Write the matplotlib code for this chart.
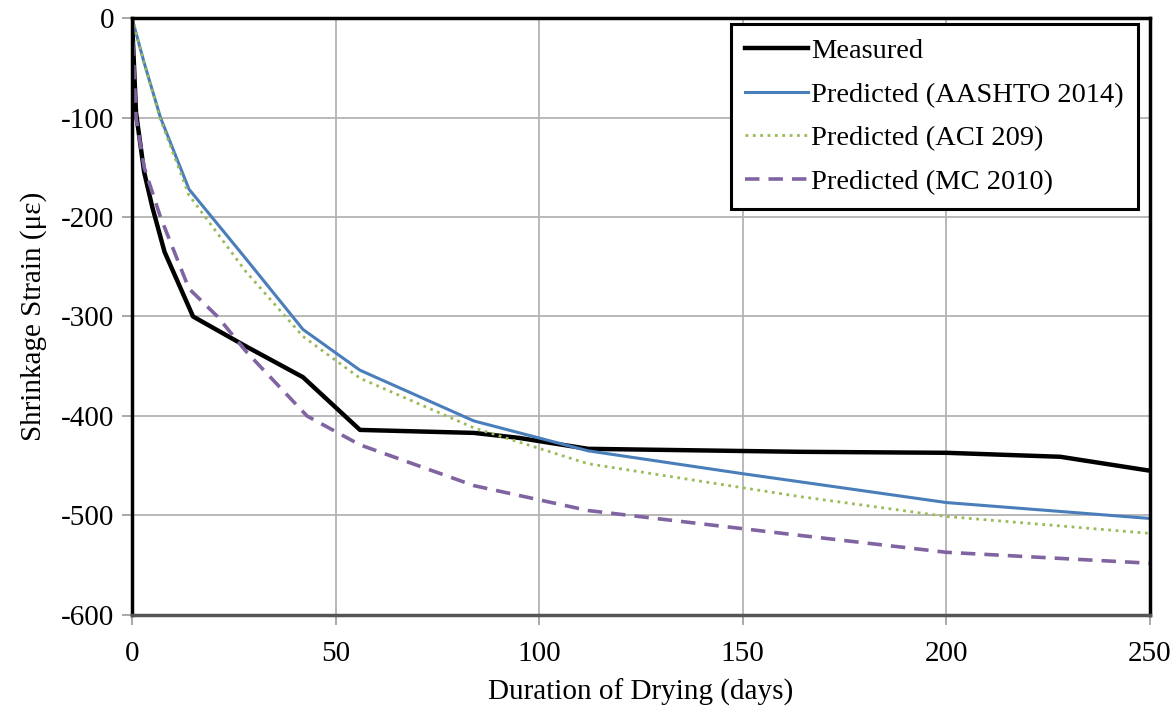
import numpy as np
import matplotlib
matplotlib.use("Agg")
from matplotlib import pyplot as plt

# measured and predicted shrinkage strain (microstrain) vs drying days
meas_days = [0, 1, 3, 5, 8, 15, 28, 42, 56, 84, 95, 112, 164, 200, 228, 250]
meas_vals = [0, -95, -155, -190, -235, -300, -330, -361, -414, -417, -422, -433, -436, -437, -441, -455]

aashto_days = [0, 3, 7, 14, 28, 42, 56, 84, 112, 150, 200, 250]
aashto_vals = [0, -45, -100, -172, -242, -313, -354, -405, -435, -458, -487, -503]

aci_days = [0, 3, 7, 14, 28, 42, 56, 84, 112, 164, 200, 250]
aci_vals = [0, -45, -102, -178, -255, -320, -362, -412, -448, -481, -501, -518]

mc_days = [0, 1, 3, 7, 14, 21, 28, 43, 56, 84, 112, 164, 200, 250]
mc_vals = [0, -100, -150, -200, -272, -300, -335, -400, -429, -470, -495, -520, -537, -548]

plt.rcParams['font.family'] = ['Liberation Serif', 'DejaVu Serif']
plt.rcParams['axes.unicode_minus'] = False

fig = plt.figure(figsize=(11.76, 7.15), dpi=100)
ax = fig.add_axes([0.1122, 0.1399, 0.8656, 0.8349])

ax.plot(meas_days, meas_vals, '-', color='black', lw=3.2, label='Measured')
ax.plot(aashto_days, aashto_vals, '-', color='#4a7ebb', lw=2.2, label='Predicted (AASHTO 2014)')
ax.plot(aci_days, aci_vals, ':', color='#9bbb59', lw=2.0, label='Predicted (ACI 209)')
ax.plot(mc_days, mc_vals, '--', color='#8064a2', lw=2.6, dashes=(4, 2.5), label='Predicted (MC 2010)')

ax.set_xlim(0, 250)
ax.set_ylim(-600, 0)
ax.set_xticks(np.arange(0, 251, 50))
ax.set_yticks(np.arange(-600, 1, 100))
ax.grid(True, color='#b3b3b3', lw=1.3)
ax.set_axisbelow(True)

for s in ax.spines.values():
    s.set_color('black')
    s.set_linewidth(2.5)
ax.spines['bottom'].set_color('#555555')
ax.tick_params(axis='both', labelsize=21, color='#999999', length=7, width=1.2)
ax.tick_params(axis='x', pad=12)
ax.tick_params(axis='y', pad=6)

ax.set_xlabel('Duration of Drying (days)', fontsize=21, labelpad=8)
ax.set_ylabel('Shrinkage Strain (\u03bc\u03b5)', fontsize=21, labelpad=10)

leg = ax.legend(loc='upper right', bbox_to_anchor=(0.988, 0.99), borderaxespad=0,
                fontsize=20.5, handlelength=2.2, handletextpad=0.1, labelspacing=0.62,
                fancybox=False, framealpha=1, borderpad=0.5)
leg.get_frame().set_edgecolor('black')
leg.get_frame().set_linewidth(2.2)

fig.savefig('out.png', dpi=100)
